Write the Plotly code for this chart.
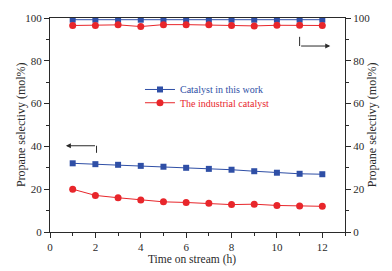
import plotly.graph_objects as go

time_h = [1, 2, 3, 4, 5, 6, 7, 8, 9, 10, 11, 12]
this_work_sel = [32.1, 31.7, 31.4, 30.9, 30.5, 30.0, 29.5, 29.1, 28.4, 27.7, 27.2, 27.0]
industrial_sel = [20.0, 17.1, 16.0, 14.9, 14.1, 13.8, 13.4, 12.8, 13.0, 12.4, 12.2, 12.0]
this_work_conv = [99.2, 99.2, 99.2, 99.2, 99.2, 99.2, 99.2, 99.2, 99.2, 99.2, 99.2, 99.2]
industrial_conv = [96.5, 96.5, 96.8, 96.0, 96.9, 96.9, 96.8, 96.5, 96.3, 96.6, 96.6, 96.5]

names = ["Catalyst in this work", "The industrial catalyst"]
y_title = "Propane selectivy (mol%)"
x_title = "Time on stream (h)"
y_ticks = [0, 20, 40, 60, 80, 100]
x_ticks = [0, 2, 4, 6, 8, 10, 12]

BLUE = "#2f4fa6"
RED = "#e8262b"
INK = "#2a2a2a"
FONT = "Liberation Serif"

# arrow guides (data coords)
left_arrow = dict(x0=2.05, y_low=37.0, y=40.3, x_tip=0.7)
right_arrow = dict(x0=11.0, y_high=91.2, y=86.9, x_tip=12.35)

fig = go.Figure()
fig.add_trace(go.Scatter(x=time_h, y=this_work_sel, mode="lines+markers", legend="legend",
                         name=f"<span style='color:{BLUE}'>{names[0]}</span>",
                         line=dict(color=BLUE, width=1),
                         marker=dict(symbol="square", size=6, color=BLUE)))
fig.add_trace(go.Scatter(x=time_h, y=industrial_sel, mode="lines+markers", legend="legend2",
                         name=f"<span style='color:{RED}'>{names[1]}</span>",
                         line=dict(color=RED, width=1),
                         marker=dict(symbol="circle", size=7, color=RED)))
fig.add_trace(go.Scatter(x=time_h, y=this_work_conv, mode="lines+markers", yaxis="y2",
                         showlegend=False, line=dict(color=BLUE, width=1),
                         marker=dict(symbol="square", size=6, color=BLUE)))
fig.add_trace(go.Scatter(x=time_h, y=industrial_conv, mode="lines+markers", yaxis="y2",
                         showlegend=False, line=dict(color=RED, width=1),
                         marker=dict(symbol="circle", size=7, color=RED)))

axis_common = dict(showgrid=False, zeroline=False, showline=True, linecolor=INK,
                   linewidth=1, ticks="outside", ticklen=5, tickcolor=INK,
                   tickfont=dict(family=FONT, size=11, color=INK))
legend_common = dict(xanchor="left", yanchor="middle", bgcolor="rgba(0,0,0,0)",
                     font=dict(family=FONT, size=10), itemwidth=30)

fig.update_layout(
    width=392, height=271,
    margin=dict(l=50, r=47, t=16, b=39),
    paper_bgcolor="white", plot_bgcolor="white",
    font=dict(family=FONT, color=INK),
    showlegend=True,
    legend=dict(x=0.305, y=0.666, **legend_common),
    legend2=dict(x=0.305, y=0.604, **legend_common),
    xaxis=dict(range=[0, 13], tickvals=x_ticks, mirror=True,
               minor=dict(dtick=1, ticks="outside", ticklen=3, tickcolor=INK),
               **axis_common),
    yaxis=dict(range=[0, 100], tickvals=y_ticks,
               minor=dict(dtick=10, ticks="outside", ticklen=3, tickcolor=INK),
               **axis_common),
    yaxis2=dict(range=[0, 100], tickvals=y_ticks, overlaying="y", side="right",
                minor=dict(dtick=10, ticks="outside", ticklen=3, tickcolor=INK),
                **axis_common),
)

# axis titles
fig.add_annotation(text=x_title, xref="paper", yref="paper", x=0.483, y=-0.129,
                   xanchor="center", yanchor="middle", showarrow=False,
                   font=dict(family=FONT, size=11.5, color=INK))
fig.add_annotation(text=y_title, xref="paper", yref="paper", x=-0.098, y=0.5,
                   xanchor="center", yanchor="middle", textangle=-90, showarrow=False,
                   font=dict(family=FONT, size=12, color=INK))
fig.add_annotation(text=y_title, xref="paper", yref="paper", x=1.092, y=0.5,
                   xanchor="center", yanchor="middle", textangle=-90, showarrow=False,
                   font=dict(family=FONT, size=12, color=INK))

# left bent arrow
fig.add_shape(type="line", xref="x", yref="y", x0=left_arrow["x0"], x1=left_arrow["x0"],
              y0=left_arrow["y_low"], y1=left_arrow["y"], line=dict(color=INK, width=1))
fig.add_annotation(x=left_arrow["x_tip"], y=left_arrow["y"], ax=left_arrow["x0"], ay=left_arrow["y"],
                   xref="x", yref="y", axref="x", ayref="y", text="", showarrow=True,
                   arrowhead=2, arrowsize=1, arrowwidth=1, arrowcolor=INK)
# right bent arrow
fig.add_shape(type="line", xref="x", yref="y", x0=right_arrow["x0"], x1=right_arrow["x0"],
              y0=right_arrow["y_high"], y1=right_arrow["y"], line=dict(color=INK, width=1))
fig.add_annotation(x=right_arrow["x_tip"], y=right_arrow["y"], ax=right_arrow["x0"], ay=right_arrow["y"],
                   xref="x", yref="y", axref="x", ayref="y", text="", showarrow=True,
                   arrowhead=2, arrowsize=1, arrowwidth=1, arrowcolor=INK)

fig.write_html("out.html", config={"displayModeBar": False},
               post_script="document.body.style.margin='0';document.body.style.overflow='hidden';")
